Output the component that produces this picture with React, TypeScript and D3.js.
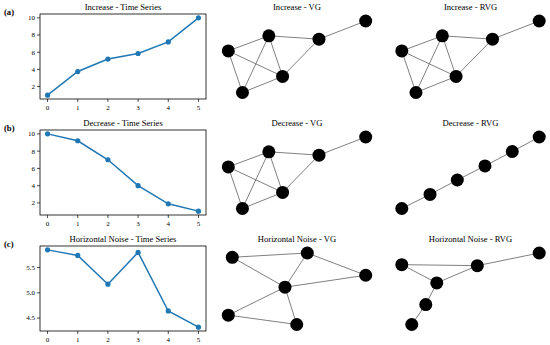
import React from "react";
import * as d3 from "d3";

// time series values (x = step)
const steps = [0, 1, 2, 3, 4, 5];
const increaseValues = [1.0, 3.75, 5.2, 5.85, 7.2, 10.0];
const decreaseValues = [10.0, 9.2, 7.0, 4.0, 1.9, 1.05];
const noiseValues = [5.85, 5.74, 5.17, 5.8, 4.64, 4.32];

const evenTicks = [2, 4, 6, 8, 10];
const noiseTicks = [4.5, 5.0, 5.5];

// graph layouts (spring-layout style coords, -1..1)
const increaseLayout = [
  [-1, 0.163],
  [-0.41, 0.586],
  [0.32, 0.493],
  [1, 1],
  [-0.21, -0.549],
  [-0.794, -1],
];
const increaseEdges = [
  [0, 1], [0, 4], [0, 5], [1, 2], [1, 4], [1, 5], [2, 4], [2, 3], [5, 4],
];

const decreaseRvgLayout = [
  [-1, -1],
  [-0.589, -0.606],
  [-0.192, -0.203],
  [0.211, 0.192],
  [0.608, 0.594],
  [1, 1],
];
const decreaseRvgEdges = [[0, 1], [1, 2], [2, 3], [3, 4], [4, 5]];

const noiseVgLayout = [
  [-0.942, 0.88],
  [0.15, 1],
  [1, 0.378],
  [-0.175, 0.043],
  [-1, -0.738],
  [-0.004, -1],
];
const noiseVgEdges = [
  [0, 1], [0, 3], [1, 3], [1, 2], [3, 2], [3, 4], [3, 5], [4, 5],
];

const noiseRvgLayout = [
  [-1, 0.674],
  [0.099, 0.646],
  [1, 1],
  [-0.491, 0.163],
  [-0.651, -0.442],
  [-0.855, -1],
];
const noiseRvgEdges = [[0, 1], [0, 3], [1, 2], [1, 3], [3, 4], [4, 5]];

const rowLabels = ["(a)", "(b)", "(c)"];
const rowNames = ["Increase", "Decrease", "Horizontal Noise"];

const FONT = "Liberation Serif, Times New Roman, serif";
const BLUE = "#1f77b4";
const colLeft = [40, 214, 387.5];
const rowTop = [14, 130, 246];
const AW = 166;
const AH = 85;

const TimeSeries = ({ top, values, ticks, fmt, title }) => {
  const left = colLeft[0];
  const [lo, hi] = d3.extent(values);
  const pad = (hi - lo) * 0.05;
  const x = d3.scaleLinear().domain([-0.25, 5.25]).range([left, left + AW]);
  const y = d3.scaleLinear().domain([lo - pad, hi + pad]).range([top + AH, top]);
  const line = d3
    .line()
    .x((_, i) => x(steps[i]))
    .y((d) => y(d));
  return (
    <g>
      <text x={left + AW / 2} y={top - 4} textAnchor="middle" fontSize={8.6} fontFamily={FONT}>
        {title}
      </text>
      <path d={line(values)} fill="none" stroke={BLUE} strokeWidth={1.5} />
      {values.map((v, i) => (
        <circle key={i} cx={x(steps[i])} cy={y(v)} r={2.6} fill={BLUE} />
      ))}
      <rect x={left} y={top} width={AW} height={AH} fill="none" stroke="#000" strokeWidth={0.8} />
      {steps.map((s) => (
        <g key={s}>
          <line x1={x(s)} x2={x(s)} y1={top + AH} y2={top + AH + 3} stroke="#000" strokeWidth={0.7} />
          <text x={x(s)} y={top + AH + 10.5} textAnchor="middle" fontSize={7} fontFamily={FONT}>
            {s}
          </text>
        </g>
      ))}
      {ticks.map((t) => (
        <g key={t}>
          <line x1={left - 3} x2={left} y1={y(t)} y2={y(t)} stroke="#000" strokeWidth={0.7} />
          <text x={left - 5} y={y(t) + 2.4} textAnchor="end" fontSize={7} fontFamily={FONT}>
            {fmt(t)}
          </text>
        </g>
      ))}
    </g>
  );
};

const Graph = ({ left, top, layout, edges, title }) => {
  const x = d3.scaleLinear().domain([-1, 1]).range([left + 14.3, left + 151.7]);
  const y = d3.scaleLinear().domain([-1, 1]).range([top + 78.5, top + 7]);
  return (
    <g>
      <text x={left + AW / 2} y={top - 4} textAnchor="middle" fontSize={8.6} fontFamily={FONT}>
        {title}
      </text>
      {edges.map(([a, b], i) => (
        <line
          key={i}
          x1={x(layout[a][0])}
          y1={y(layout[a][1])}
          x2={x(layout[b][0])}
          y2={y(layout[b][1])}
          stroke="#808080"
          strokeWidth={1}
        />
      ))}
      {layout.map((p, i) => (
        <circle key={i} cx={x(p[0])} cy={y(p[1])} r={6.5} fill="#000" />
      ))}
    </g>
  );
};

export default function App() {
  const series = [increaseValues, decreaseValues, noiseValues];
  const tickSets = [evenTicks, evenTicks, noiseTicks];
  const fmts = [d3.format("d"), d3.format("d"), d3.format(".1f")];
  const vg = [
    [increaseLayout, increaseEdges],
    [increaseLayout, increaseEdges],
    [noiseVgLayout, noiseVgEdges],
  ];
  const rvg = [
    [increaseLayout, increaseEdges],
    [decreaseRvgLayout, decreaseRvgEdges],
    [noiseRvgLayout, noiseRvgEdges],
  ];
  return (
    <svg
      width={550}
      height={345}
      style={{ position: "absolute", left: 0, top: 0, background: "#fff" }}
    >
      {rowNames.map((name, r) => (
        <g key={name}>
          <text x={4} y={rowTop[r] + 0.5} fontSize={8.6} fontWeight="bold" fontFamily={FONT}>
            {rowLabels[r]}
          </text>
          <TimeSeries
            top={rowTop[r]}
            values={series[r]}
            ticks={tickSets[r]}
            fmt={fmts[r]}
            title={`${name} - Time Series`}
          />
          <Graph left={colLeft[1]} top={rowTop[r]} layout={vg[r][0]} edges={vg[r][1]} title={`${name} - VG`} />
          <Graph left={colLeft[2]} top={rowTop[r]} layout={rvg[r][0]} edges={rvg[r][1]} title={`${name} - RVG`} />
        </g>
      ))}
    </svg>
  );
}
